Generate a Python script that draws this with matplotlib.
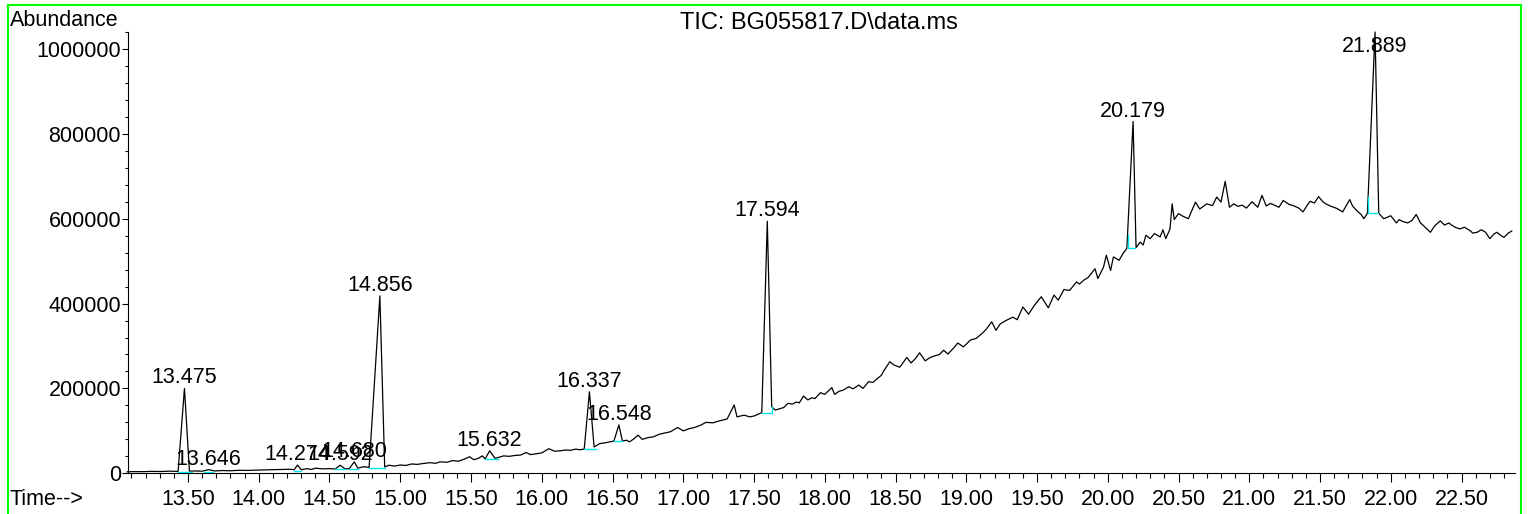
import numpy as np
import matplotlib
matplotlib.use("Agg")
import matplotlib.pyplot as plt
from matplotlib.ticker import MultipleLocator, FuncFormatter
from matplotlib.lines import Line2D

plt.rcParams["font.family"] = ["Liberation Sans", "DejaVu Sans"]
plt.rcParams["font.size"] = 15

#############################################################################
# Data (retention time in min, abundance)
# -------------------------------------------------------------------

rt = [
    13.07, 13.12, 13.18, 13.24, 13.31, 13.37, 13.43, 13.475, 13.51, 13.55,
    13.60, 13.646, 13.69, 13.74, 13.80, 13.86, 13.92, 13.98, 14.04, 14.10,
    14.16, 14.22, 14.25, 14.274, 14.30, 14.34, 14.37, 14.40, 14.45, 14.50,
    14.54, 14.575, 14.61, 14.64, 14.675, 14.70, 14.74, 14.78, 14.856, 14.89,
    14.92, 14.96, 15.00, 15.04, 15.08, 15.12, 15.16, 15.21, 15.25, 15.28,
    15.33, 15.37, 15.41, 15.45, 15.49, 15.52, 15.55, 15.58, 15.60, 15.632,
    15.67, 15.70, 15.73, 15.77, 15.81, 15.85, 15.89, 15.92, 15.96, 16.00,
    16.05, 16.09, 16.13, 16.17, 16.20, 16.24, 16.27, 16.30, 16.337, 16.37,
    16.41, 16.45, 16.48, 16.51, 16.545, 16.57, 16.60, 16.62, 16.65, 16.68,
    16.71, 16.75, 16.79, 16.83, 16.87, 16.91, 16.96, 17.00, 17.04, 17.08,
    17.12, 17.16, 17.21, 17.26, 17.31, 17.36, 17.38, 17.43, 17.47, 17.50,
    17.555, 17.594, 17.625, 17.65, 17.68, 17.71, 17.74, 17.77, 17.80, 17.82,
    17.85, 17.88, 17.91, 17.93, 17.97, 18.00, 18.05, 18.07, 18.10, 18.13,
    18.17, 18.20, 18.24, 18.27, 18.31, 18.34, 18.36, 18.40, 18.42, 18.46,
    18.49, 18.53, 18.58, 18.61, 18.64, 18.67, 18.71, 18.74, 18.77, 18.81,
    18.84, 18.87, 18.91, 18.94, 18.98, 19.03, 19.07, 19.11, 19.14, 19.18,
    19.21, 19.24, 19.28, 19.33, 19.36, 19.40, 19.44, 19.48, 19.51, 19.53,
    19.58, 19.62, 19.65, 19.69, 19.73, 19.78, 19.80, 19.83, 19.86, 19.91,
    19.93, 19.97, 19.99, 20.02, 20.04, 20.08, 20.11, 20.135, 20.179, 20.20,
    20.23, 20.25, 20.27, 20.30, 20.33, 20.37, 20.39, 20.41, 20.44, 20.455,
    20.47, 20.50, 20.53, 20.57, 20.59, 20.62, 20.65, 20.70, 20.74, 20.77,
    20.80, 20.83, 20.86, 20.89, 20.92, 20.95, 20.98, 21.02, 21.06, 21.09,
    21.12, 21.15, 21.17, 21.21, 21.24, 21.28, 21.31, 21.35, 21.38, 21.41,
    21.43, 21.46, 21.49, 21.52, 21.54, 21.58, 21.62, 21.66, 21.71, 21.73,
    21.76, 21.79, 21.81, 21.835, 21.889, 21.915, 21.95, 21.98, 22.00, 22.04,
    22.06, 22.08, 22.12, 22.15, 22.18, 22.21, 22.23, 22.28, 22.31, 22.35,
    22.38, 22.41, 22.43, 22.46, 22.49, 22.52, 22.56, 22.58, 22.61, 22.64,
    22.67, 22.70, 22.73, 22.75, 22.78, 22.80, 22.83, 22.855,
]

tic = [
    3500, 4000, 3800, 4500, 4200, 5000, 4500, 200000, 5000, 5500,
    5000, 8500, 5500, 6500, 6000, 7000, 6800, 7500, 8000, 8500,
    9000, 9500, 8500, 19500, 8500, 11000, 9000, 12000, 10500, 11000,
    10000, 19000, 10500, 11000, 27000, 12000, 15500, 14000, 418000, 15000,
    19000, 17000, 19500, 18500, 22000, 21000, 23000, 25000, 23500, 27000,
    26000, 30000, 28500, 33000, 39000, 32000, 35000, 41000, 34000, 53000,
    35000, 38000, 41000, 40000, 42000, 43000, 49000, 44000, 46000, 48000,
    58000, 52000, 53000, 55000, 54000, 57000, 55500, 57000, 192000, 62000,
    70000, 72000, 74000, 76000, 114000, 76000, 78000, 74000, 81000, 90000,
    80000, 84000, 86000, 92000, 95000, 98000, 108000, 100000, 105000, 108000,
    113000, 120000, 119000, 124000, 128000, 161000, 133000, 137000, 133000, 135000,
    143000, 594000, 157000, 149000, 152000, 155000, 165000, 163000, 168000, 166000,
    182000, 173000, 178000, 176000, 190000, 186000, 202000, 186000, 193000, 196000,
    204000, 199000, 208000, 200000, 216000, 214000, 220000, 231000, 243000, 263000,
    255000, 250000, 273000, 260000, 270000, 284000, 265000, 272000, 276000, 280000,
    290000, 281000, 295000, 307000, 298000, 314000, 318000, 329000, 339000, 357000,
    337000, 352000, 360000, 368000, 362000, 392000, 375000, 395000, 408000, 416000,
    390000, 420000, 408000, 433000, 431000, 451000, 446000, 455000, 461000, 482000,
    459000, 486000, 514000, 478000, 510000, 502000, 519000, 530000, 829000, 532000,
    545000, 538000, 561000, 553000, 565000, 557000, 574000, 553000, 576000, 635000,
    598000, 612000, 606000, 600000, 616000, 639000, 623000, 635000, 631000, 651000,
    639000, 688000, 627000, 635000, 629000, 632000, 625000, 640000, 627000, 655000,
    630000, 636000, 633000, 627000, 643000, 634000, 631000, 625000, 616000, 632000,
    641000, 637000, 652000, 640000, 635000, 629000, 624000, 616000, 645000, 630000,
    619000, 610000, 600000, 613000, 1040000, 613000, 600000, 604000, 607000, 590000,
    598000, 594000, 590000, 596000, 610000, 590000, 584000, 568000, 583000, 595000,
    585000, 590000, 585000, 579000, 576000, 580000, 572000, 566000, 568000, 574000,
    568000, 553000, 564000, 568000, 560000, 556000, 566000, 571000,
]

# labelled peaks and their integration baselines (cyan)
peak_rt = [13.475, 13.646, 14.274, 14.575, 14.675, 14.856, 15.632, 16.337,
           16.545, 17.594, 20.179, 21.889]
peak_labels = ["13.475", "13.646", "14.274", "14.592", "14.680", "14.856",
               "15.632", "16.337", "16.548", "17.594", "20.179", "21.889"]
peak_height = [200000, 8500, 19500, 19000, 27000, 418000, 53000, 192000,
               114000, 594000, 829000, 1040000]
base_start = [13.43, 13.61, 14.25, 14.54, 14.64, 14.78, 15.60, 16.30,
              16.51, 17.555, 20.14, 21.84]
base_end = [13.53, 13.68, 14.30, 14.61, 14.70, 14.89, 15.69, 16.38,
            16.57, 17.625, 20.19, 21.91]
base_level = [2500, 4000, 6000, 9400, 9500, 13000, 33000, 56500,
              76000, 142600, 530000, 613000]
# where the baseline meets the signal at each end
base_start_top = [2500, 4000, 6000, 9400, 9500, 13000, 33000, 56500,
                  76000, 142600, 561000, 651000]
base_end_top = [2500, 4000, 6000, 9400, 9500, 13000, 33000, 56500,
                76000, 157000, 530000, 613000]

#############################################################################
# Plot
# ----

fig = plt.figure(figsize=(15.28, 5.14), dpi=100)
ax = fig.add_axes([128 / 1528, 40.7 / 514, 1387 / 1528, 441.3 / 514])

ax.plot(rt, tic, color="black", lw=0.9, clip_on=False, zorder=3)

for ts, te, lvl, ys, ye in zip(base_start, base_end, base_level,
                               base_start_top, base_end_top):
    ax.plot([ts, ts, te, te], [ys, lvl, lvl, ye], color="#00e5ee", lw=1.0,
            zorder=4)

for t, h, lab in zip(peak_rt, peak_height, peak_labels):
    ax.annotate(lab, (t, min(h, 980000)), xytext=(0, 0),
                textcoords="offset points", ha="center", va="bottom",
                fontsize=15.5, zorder=5)

ax.set_xlim(13.076, 22.878)
ax.set_ylim(0, 1040000)
ax.xaxis.set_major_locator(MultipleLocator(0.5))
ax.xaxis.set_minor_locator(MultipleLocator(0.1))
ax.xaxis.set_major_formatter(FuncFormatter(lambda v, p: f"{v:.2f}"))
ax.yaxis.set_major_locator(MultipleLocator(200000))
ax.yaxis.set_minor_locator(MultipleLocator(40000))
ax.yaxis.set_major_formatter(FuncFormatter(lambda v, p: f"{v:.0f}"))

ax.tick_params(axis="x", which="major", length=6.5, width=0.8, pad=5,
               labelsize=15.5)
ax.tick_params(axis="x", which="minor", length=3.6, width=0.8)
ax.tick_params(axis="y", which="major", length=4, width=0.8, pad=1,
               labelsize=15.5)
ax.tick_params(axis="y", which="minor", length=2.5, width=0.8)
for s in ["top", "right"]:
    ax.spines[s].set_visible(False)
for s in ["left", "bottom"]:
    ax.spines[s].set_linewidth(0.8)

fig.text(10 / 1528, 1 - 26 / 514, "Abundance", fontsize=15.5, va="baseline")
fig.text(10 / 1528, 1 - 505 / 514, "Time-->", fontsize=15.5, va="baseline")
fig.text(819 / 1528, 1 - 29 / 514, "TIC: BG055817.D\\data.ms", fontsize=17,
         ha="center", va="baseline")

# green frame round the figure
green = "#00ff00"
fig.add_artist(Line2D([8 / 1528, 1521 / 1528], [1 - 5 / 514, 1 - 5 / 514],
                      color=green, lw=1.5, transform=fig.transFigure))
fig.add_artist(Line2D([8 / 1528, 8 / 1528], [0, 1 - 5 / 514],
                      color=green, lw=1.5, transform=fig.transFigure))
fig.add_artist(Line2D([1521 / 1528, 1521 / 1528], [0, 1 - 5 / 514],
                      color=green, lw=1.5, transform=fig.transFigure))

fig.savefig("out.png", dpi=100)
